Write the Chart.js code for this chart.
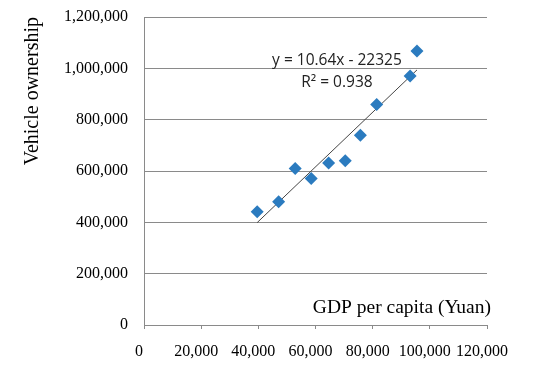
<!DOCTYPE html>
<html>
<head>
<meta charset="utf-8">
<script src="https://cdn.jsdelivr.net/npm/chart.js@4.4.0/dist/chart.umd.min.js"></script>
<style>
  html, body { margin: 0; padding: 0; background: #fff; }
  #wrap { width: 550px; height: 370px; position: relative; }
</style>
</head>
<body>
<div id="wrap"><canvas id="scatter"></canvas></div>
<script>
// GDP per capita (Yuan) vs vehicle ownership
const gdpPerCapita = [39600, 47100, 52900, 58500, 64600, 70400, 75700, 81400, 93100, 95500];
const vehicles = [441000, 480000, 610000, 571000, 631000, 640000, 739000, 859000, 970000, 1068000];

// linear trendline as printed on the chart
const trendSlope = 10.64;
const trendIntercept = -22325;
const trendLabel = 'y = 10.64x - 22325';
const r2Label = 'R\u00b2 = 0.938';

const xTicks = [0, 20000, 40000, 60000, 80000, 100000, 120000];
const yTicks = [0, 200000, 400000, 600000, 800000, 1000000, 1200000];

const points = gdpPerCapita.map((x, i) => ({ x: x, y: vehicles[i] }));
const xMin = Math.min(...gdpPerCapita);
const xMax = Math.max(...gdpPerCapita);
const trend = [xMin, xMax].map(x => ({ x: x, y: trendSlope * x + trendIntercept }));

const fmt = v => Number(v).toLocaleString('en-US');
const serif = "'Liberation Serif', 'Times New Roman', serif";
const gridGrey = '#8a8a8a';

// text written inside the plot area
const annotations = {
  id: 'annotations',
  afterDraw(chart) {
    const c = chart.ctx;
    const area = chart.chartArea;
    const xs = chart.scales.x, ys = chart.scales.y;
    c.save();
    c.fillStyle = '#222';
    c.font = "15.5px 'Open Sans', 'Liberation Sans', sans-serif";
    c.textAlign = 'center';
    c.textBaseline = 'middle';
    const cx = xs.getPixelForValue(67500);
    c.fillText(trendLabel, cx, ys.getPixelForValue(1029000));
    c.fillText(r2Label, cx, ys.getPixelForValue(946000));

    c.fillStyle = '#000';
    c.font = '19.5px ' + serif;
    c.textAlign = 'right';
    c.fillText('GDP per capita (Yuan)', area.right + 4, area.bottom - 17);
    c.restore();
  }
};

const ctx = document.getElementById('scatter').getContext('2d');
const myChart = new Chart(ctx, {
    type: 'scatter',
    data: {
        datasets: [{
            label: 'Vehicle ownership',
            data: points,
            pointStyle: 'rectRot',
            pointRadius: 6.5,
            pointHoverRadius: 6.5,
            backgroundColor: '#2b7bbf',
            borderColor: '#2b7bbf',
            borderWidth: 0,
            order: 1
        }, {
            type: 'line',
            label: 'Linear',
            data: trend,
            borderColor: '#444',
            borderWidth: 1,
            pointRadius: 0,
            fill: false,
            order: 2
        }]
    },
    options: {
        responsive: true,
        maintainAspectRatio: false,
        animation: false,
        layout: { padding: { left: 0, top: 17, right: 63, bottom: 0 } },
        plugins: {
            legend: { display: false },
            tooltip: { enabled: false }
        },
        scales: {
            x: {
                type: 'linear',
                min: 0,
                max: 120000,
                afterBuildTicks: s => { s.ticks = xTicks.map(v => ({ value: v })); },
                afterFit: s => { s.height = 45; },
                ticks: {
                    callback: v => fmt(v),
                    color: '#000',
                    font: { family: serif, size: 16 },
                    padding: 13,
                    labelOffset: -5,
                    maxRotation: 0,
                    autoSkip: false
                },
                grid: {
                    drawOnChartArea: false,
                    drawTicks: true,
                    tickLength: 4,
                    color: gridGrey
                },
                border: { color: gridGrey, width: 1 }
            },
            y: {
                type: 'linear',
                min: 0,
                max: 1200000,
                afterBuildTicks: s => { s.ticks = yTicks.map(v => ({ value: v })); },
                afterFit: s => { s.width = 144; s.paddingTop = 0; s.paddingBottom = 0; },
                ticks: {
                    callback: v => fmt(v),
                    color: '#000',
                    font: { family: serif, size: 16 },
                    padding: 16
                },
                grid: {
                    color: gridGrey,
                    drawTicks: false
                },
                border: { color: gridGrey, width: 1 },
                title: {
                    display: true,
                    text: 'Vehicle ownership',
                    align: 'end',
                    color: '#000',
                    font: { family: serif, size: 20 },
                    padding: { top: 21, bottom: 0 }
                }
            }
        }
    },
    plugins: [annotations]
});
</script>
</body>
</html>
